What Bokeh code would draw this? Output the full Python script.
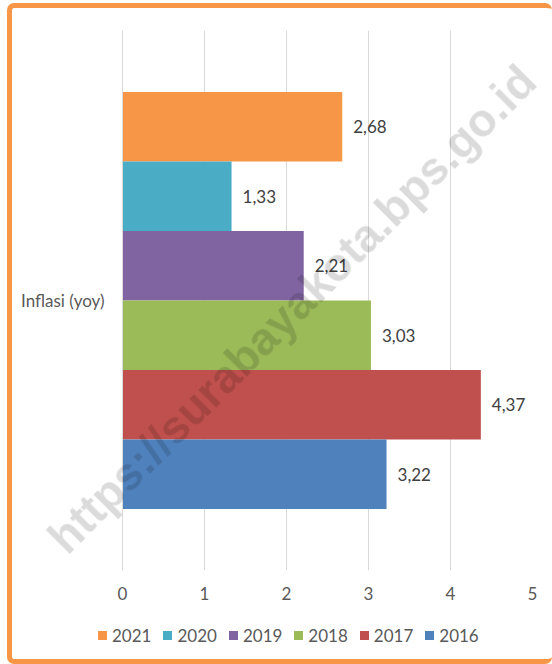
from bokeh.plotting import figure
from bokeh.layouts import column
from bokeh.models import ColumnDataSource, FactorRange, Range1d, Div
from bokeh.transform import dodge
from bokeh.core.properties import value
from bokeh.embed import file_html
from bokeh.resources import INLINE

# ---- data ----
category = ["Inflasi (yoy)"]
years = ["2021", "2020", "2019", "2018", "2017", "2016"]
inflation = [2.68, 1.33, 2.21, 3.03, 4.37, 3.22]
colors = ["#F79646", "#4BACC6", "#8064A2", "#9BBB59", "#C0504D", "#4F81BD"]
x_ticks = [0, 1, 2, 3, 4, 5]
watermark = "https://surabayakota.bps.go.id"

FONT = "Lato"
W = 540
H_MAIN, H_LEG = 604, 47
BAR_H = 0.1287

p = figure(width=W, height=H_MAIN, y_range=FactorRange(*category), x_range=Range1d(0, 5),
           output_backend="svg", toolbar_location=None,
           min_border_left=110, min_border_right=20, min_border_top=22, min_border_bottom=42)

n = len(years)
for i, (yr, v, c) in enumerate(zip(years, inflation, colors)):
    off = ((n - 1) / 2 - i) * BAR_H
    src = ColumnDataSource(dict(cat=category, val=[v], lab=[f"{v:.2f}".replace(".", ",")]))
    p.hbar(y=dodge("cat", off, range=p.y_range), left=0, right="val", height=BAR_H,
           fill_color=c, line_color=None, source=src, legend_label=yr)
    p.text(x="val", y=dodge("cat", off, range=p.y_range), text="lab", x_offset=11,
           text_baseline="middle", text_align="left", text_font=value(FONT),
           text_font_size="17px", text_color="#404040", source=src)
p.legend.visible = False  # legend is drawn in the strip below

# axes & grid
p.xaxis.ticker = x_ticks
p.xaxis.axis_line_color = None
p.xaxis.major_tick_line_color = None
p.xaxis.minor_tick_line_color = None
p.xaxis.major_label_standoff = 10
p.xaxis.major_label_text_font = FONT
p.xaxis.major_label_text_font_size = "17px"
p.xaxis.major_label_text_color = "#595959"

p.yaxis.axis_line_color = "#D9D9D9"
p.yaxis.major_tick_line_color = None
p.yaxis.minor_tick_line_color = None
p.yaxis.major_label_standoff = 12
p.yaxis.major_label_text_font = FONT
p.yaxis.major_label_text_font_size = "17px"
p.yaxis.major_label_text_color = "#595959"
p.yaxis.major_label_orientation = "horizontal"

p.xgrid.grid_line_color = "#D9D9D9"
p.ygrid.grid_line_color = None
p.outline_line_color = None
p.background_fill_color = "white"
p.border_fill_color = "white"

# ---- legend strip (HTML) + watermark overlay ----
legend_items = "".join(
    f'<span style="display:inline-flex;align-items:center;margin-right:12px;">'
    f'<span style="display:inline-block;width:9px;height:9px;background:{c};margin-right:5px;"></span>'
    f'{yr}</span>'
    for yr, c in zip(years, colors))
wm_html = (f'<div style="position:fixed;left:292px;top:309px;'
           f'transform:translate(-50%,-50%) rotate(-45deg);white-space:nowrap;'
           f'font-family:\'Liberation Sans\';font-weight:bold;font-size:46px;'
           f'color:rgba(0,0,0,0.14);pointer-events:none;z-index:10;line-height:1;">'
           f'{watermark}</div>')
leg_html = (f'<div style="display:flex;align-items:center;height:{H_LEG}px;padding-left:86px;'
            f'font-family:Lato;font-size:17px;color:#595959;line-height:1;">{legend_items}</div>'
            + wm_html)
leg = Div(text=leg_html, width=W, height=H_LEG, margin=(0, 0, 0, 0))

layout = column(p, leg, spacing=0)
layout.styles = {"margin-left": "7px", "margin-top": "3px",
                 "border": "5px solid #F79646", "border-right-width": "0",
                 "border-radius": "7px", "background-color": "white"}

open("out.html", "w").write(file_html(layout, INLINE))
